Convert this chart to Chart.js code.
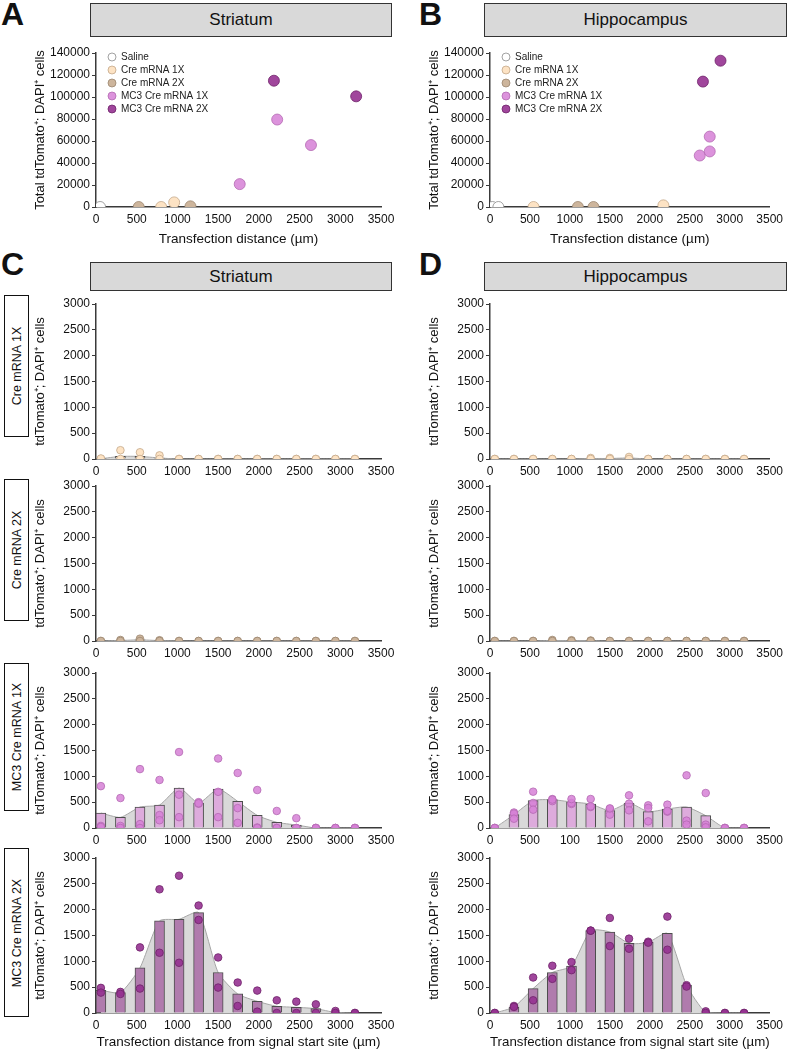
<!DOCTYPE html>
<html>
<head>
<meta charset="utf-8">
<script src="https://cdn.jsdelivr.net/npm/chart.js@4.4.1/dist/chart.umd.min.js"></script>
<style>
  html, body { margin: 0; padding: 0; background: #fff; }
  #fig { position: relative; width: 788px; height: 1050px; overflow: hidden;
         font-family: Arial, "Liberation Sans", sans-serif; color: #111; }
  #fig canvas { position: absolute; }
  .letter { position: absolute; font-weight: bold; font-size: 32px; line-height: 1; }
  .head { position: absolute; background: #d9d9d9; border: 1px solid #333; box-sizing: border-box;
          display: flex; align-items: center; justify-content: center; font-size: 17px; }
  .rowlab { position: absolute; left: 4px; width: 25px; border: 1.5px solid #111;
            box-sizing: border-box; background: #fff; }
  .rowlab span { position: absolute; left: 50%; top: 50%; white-space: nowrap; font-size: 12.5px;
                 transform: translate(-50%, -50%) rotate(-90deg); }
</style>
</head>
<body>
<div id="fig">
  <div class="letter" style="left:1px;top:-2px">A</div>
  <div class="letter" style="left:419px;top:-2px">B</div>
  <div class="letter" style="left:1px;top:248px">C</div>
  <div class="letter" style="left:419px;top:248px">D</div>

  <div class="head" style="left:90px;top:3px;width:302px;height:34px">Striatum</div>
  <div class="head" style="left:484px;top:3px;width:303px;height:34px">Hippocampus</div>
  <div class="head" style="left:90px;top:262px;width:302px;height:29px">Striatum</div>
  <div class="head" style="left:484px;top:262px;width:303px;height:29px">Hippocampus</div>

  <div class="rowlab" style="top:295px;height:142px"><span>Cre mRNA 1X</span></div>
  <div class="rowlab" style="top:479px;height:142px"><span>Cre mRNA 2X</span></div>
  <div class="rowlab" style="top:663px;height:148px"><span>MC3 Cre mRNA 1X</span></div>
  <div class="rowlab" style="top:848px;height:169px"><span>MC3 Cre mRNA 2X</span></div>
</div>

<script>
  // --- axis values ---
  const binCenters   = [60, 300, 540, 780, 1020, 1260, 1500, 1740, 1980, 2220, 2460, 2700, 2940, 3180];
  const xTicks       = [0, 500, 1000, 1500, 2000, 2500, 3000, 3500];
  const xTickLabels  = ['0', '500', '1000', '1500', '2000', '2500', '3000', '3500'];
  const xTickLabelsD3 = ['0', '500', '100', '1500', '2000', '2500', '3000', '3500']; // printed this way in D, row 3
  const totalTicks   = [0, 20000, 40000, 60000, 80000, 100000, 120000, 140000];
  const cellTicks    = [0, 500, 1000, 1500, 2000, 2500, 3000];

  const groupNames = ['Saline', 'Cre mRNA 1X', 'Cre mRNA 2X', 'MC3 Cre mRNA 1X', 'MC3 Cre mRNA 2X'];

  // --- A / B: one point per animal ---
  const striatumTotalX = [[50], [800, 960], [525, 1160], [1765, 2225, 2640], [2185, 3195]];
  const striatumTotalY = [[0], [0, 4200], [0, 600], [20800, 79500, 56300], [114800, 100600]];
  const hippoTotalX    = [[30, 105], [545, 2170], [1100, 1295], [2625, 2750, 2750], [2665, 2885]];
  const hippoTotalY    = [[0, 0], [0, 1500], [0, 0], [46800, 50500, 64000], [114000, 133000]];

  // --- C: striatum, mean per bin and one value per animal ---
  const strCre1Mean = [5, 50, 50, 20, 0, 0, 0, 0, 0, 0, 0, 0, 0, 0];
  const strCre1Pts  = [[0, 10], [170, 0], [130, 0], [70, 0], [0, 0], [0, 0], [0, 0], [0, 0], [0, 0], [0, 0], [0, 0], [0, 0], [0, 0], [0, 0]];
  const strCre2Mean = [0, 10, 22, 8, 0, 0, 0, 0, 0, 0, 0, 0, 0, 0];
  const strCre2Pts  = [[0, 0], [20, 0], [45, 0], [15, 0], [0, 0], [0, 0], [0, 0], [0, 0], [0, 0], [0, 0], [0, 0], [0, 0], [0, 0], [0, 0]];
  const strMc1Mean  = [290, 206, 406, 445, 774, 484, 755, 516, 245, 110, 58, 0, 0, 0];
  const strMc1Pts   = [[810, 40, 20], [580, 40, 0], [1140, 75, 0], [930, 250, 150], [1470, 645, 210], [500, 470, 480], [1345, 700, 210],
                       [1065, 385, 100], [735, 10, 0], [330, 0, 0], [190, 0, 0], [0, 0, 0], [0, 0, 0], [0, 0, 0]];
  const strMc2Mean  = [441, 395, 875, 1782, 1814, 1944, 784, 369, 227, 130, 110, 84, 10, 0];
  const strMc2Pts   = [[486, 395], [408, 369], [1270, 473], [2394, 1166], [2657, 972], [2080, 1801], [1075, 492],
                       [590, 136], [434, 26], [246, 0], [220, 0], [168, 0], [39, 0], [0, 0]];

  // --- D: hippocampus ---
  const hipCre1Mean = [0, 0, 0, 0, 0, 10, 10, 20, 0, 0, 0, 0, 0, 0];
  const hipCre1Pts  = [[0, 0], [0, 0], [0, 0], [0, 0], [0, 0], [20, 0], [20, 0], [40, 0], [0, 0], [0, 0], [0, 0], [0, 0], [0, 0], [0, 0]];
  const hipCre2Mean = [0, 0, 0, 10, 8, 5, 0, 0, 0, 0, 0, 0, 0, 0];
  const hipCre2Pts  = [[0, 0], [0, 0], [0, 0], [20, 0], [15, 0], [10, 0], [0, 0], [0, 0], [0, 0], [0, 0], [0, 0], [0, 0], [0, 0], [0, 0]];
  const hipMc1Mean  = [0, 258, 529, 548, 503, 464, 335, 484, 316, 368, 406, 239, 0, 0];
  const hipMc1Pts   = [[0, 0, 0], [300, 280, 180], [703, 484, 355], [560, 520, 550], [465, 485, 560], [561, 406, 420], [368, 258, 380],
                       [632, 471, 342], [439, 387, 129], [452, 316, 330], [1019, 142, 65], [677, 65, 13], [0, 0, 0], [0, 0, 0]];
  const hipMc2Mean  = [0, 117, 473, 784, 907, 1594, 1568, 1348, 1367, 1542, 538, 10, 0, 0];
  const hipMc2Pts   = [[0, 0], [136, 117], [687, 246], [914, 661], [985, 829], [1594, 1594], [1840, 1296],
                       [1439, 1244], [1380, 1361], [1866, 1225], [538, 512], [32, 0], [0, 0], [0, 0]];

  // --- colours per group ---
  const dotFill = ['#ffffff', '#fde3c4', '#cdb59c', 'rgba(214,128,214,0.85)', 'rgba(150,50,145,0.9)'];
  const dotLine = ['#8c8c8c', '#c4a88a', '#9c8670', '#b46ab3', '#6e2269'];
  const barFill = ['#ffffff', '#f6d9b8', '#c9b29a', '#ddabdc', '#b07bad'];

  Chart.defaults.font.family = 'Arial, "Liberation Sans", sans-serif';
  Chart.defaults.color = '#111';
  Chart.defaults.animation = false;
  Chart.defaults.events = [];
  Chart.defaults.plugins.legend.display = false;
  Chart.defaults.plugins.tooltip.enabled = false;

  const fig = document.getElementById('fig');

  // legend drawn inside the plot area (panels A and B)
  const insideLegend = {
    id: 'insideLegend',
    afterDatasetsDraw(chart) {
      const ctx = chart.ctx, a = chart.chartArea;
      ctx.save();
      chart.data.datasets.forEach((ds, i) => {
        const x = a.left + 16, y = a.top + 4 + i * 13;
        ctx.beginPath();
        ctx.arc(x, y, 4, 0, Math.PI * 2);
        ctx.fillStyle = ds.backgroundColor;
        ctx.fill();
        ctx.lineWidth = 0.8;
        ctx.strokeStyle = ds.borderColor;
        ctx.stroke();
        ctx.fillStyle = '#222';
        ctx.font = '10px Arial, "Liberation Sans", sans-serif';
        ctx.textBaseline = 'middle';
        ctx.fillText(ds.label, x + 9, y);
      });
      ctx.restore();
    }
  };

  function addCanvas(box) {
    const c = document.createElement('canvas');
    c.width = box.w; c.height = box.h;
    c.style.left = box.l + 'px'; c.style.top = box.t + 'px';
    fig.appendChild(c);
    return c;
  }

  // pin the plot area to fixed pixels inside its canvas
  function frame(box, area, padLeft) {
    return {
      padding: { left: padLeft, right: box.l + box.w - area.r, top: area.t - box.t, bottom: 0 },
      yWidth: area.l - box.l - padLeft,
      xHeight: box.t + box.h - area.b
    };
  }

  function axes(f, yVals, yTitle, xLabels, xTitle, ySize) {
    return {
      x: {
        type: 'linear', min: 0, max: 3500, offset: false,
        afterBuildTicks: s => { s.ticks = xTicks.map(v => ({ value: v })); },
        afterFit: s => { s.height = f.xHeight; },
        ticks: { font: { size: 12 }, padding: 5, maxRotation: 0, autoSkip: false, callback: (v, i) => xLabels[i] },
        grid: { drawOnChartArea: false, drawTicks: false, offset: false },
        border: { color: '#3a3a3a', width: 1.5 },
        title: { display: !!xTitle, text: xTitle || '', font: { size: 13.5 }, padding: 0 }
      },
      y: {
        min: 0, max: yVals[yVals.length - 1],
        afterBuildTicks: s => { s.ticks = yVals.map(v => ({ value: v })); },
        afterFit: s => { s.width = f.yWidth; },
        ticks: { font: { size: ySize }, padding: 2, callback: v => String(v) },
        grid: { drawOnChartArea: false, drawTicks: true, tickLength: 4, color: '#3a3a3a' },
        border: { color: '#3a3a3a', width: 1.5 },
        title: { display: true, text: yTitle, font: { size: 13 }, padding: 0 }
      }
    };
  }

  function totalChart(box, area, xs, ys) {
    const f = frame(box, area, 33);
    new Chart(addCanvas(box), {
      type: 'scatter',
      data: {
        datasets: groupNames.map((name, g) => ({
          label: name,
          data: xs[g].map((x, i) => ({ x, y: ys[g][i] })),
          backgroundColor: dotFill[g], borderColor: dotLine[g],
          borderWidth: 0.8, pointRadius: 5.5, clip: 0
        }))
      },
      options: {
        responsive: false,
        layout: { padding: f.padding },
        scales: axes(f, totalTicks, 'Total tdTomato⁺; DAPI⁺ cells', xTickLabels, 'Transfection distance (µm)', 12)
      },
      plugins: [insideLegend]
    });
  }

  function cellChart(box, area, means, pts, g, xLabels, xTitle) {
    const f = frame(box, area, 33);
    const bins = binCenters.map((x, i) => ({ x, y: means[i] }));
    const dots = [];
    pts.forEach((vals, i) => vals.forEach(v => dots.push({ x: binCenters[i], y: v })));
    new Chart(addCanvas(box), {
      type: 'bar',
      data: {
        datasets: [
          { type: 'scatter', data: dots, backgroundColor: dotFill[g], borderColor: dotLine[g],
            borderWidth: 0.8, pointRadius: 3.8, order: 1, clip: 0 },
          { type: 'bar', data: bins, backgroundColor: barFill[g], borderColor: '#4d4d4d',
            borderWidth: 1, barThickness: 10, order: 2, clip: 0 },
          { type: 'line', data: bins, fill: 'origin', backgroundColor: '#d9d9d9', borderColor: '#a6a6a6',
            borderWidth: 1, pointRadius: 0, tension: 0.2, order: 3, clip: 0 }
        ]
      },
      options: {
        responsive: false,
        layout: { padding: f.padding },
        scales: axes(f, cellTicks, 'tdTomato⁺; DAPI⁺ cells', xLabels, xTitle, 12)
      }
    });
  }

  // --- A and B ---
  totalChart({ l: 0, t: 40, w: 400, h: 207 }, { l: 96, r: 381, t: 53, b: 207 }, striatumTotalX, striatumTotalY);
  totalChart({ l: 394, t: 40, w: 394, h: 207 }, { l: 490, r: 775, t: 53, b: 207 }, hippoTotalX, hippoTotalY);

  // --- C and D, four rows each ---
  const rowTops    = [304, 486, 673, 858];
  const rowBottoms = [459, 641, 828, 1013];
  const strRows = [[strCre1Mean, strCre1Pts, 1], [strCre2Mean, strCre2Pts, 2], [strMc1Mean, strMc1Pts, 3], [strMc2Mean, strMc2Pts, 4]];
  const hipRows = [[hipCre1Mean, hipCre1Pts, 1], [hipCre2Mean, hipCre2Pts, 2], [hipMc1Mean, hipMc1Pts, 3], [hipMc2Mean, hipMc2Pts, 4]];

  rowTops.forEach((top, r) => {
    const last = r === rowTops.length - 1;
    const bt = top - 10;
    const bh = last ? 1050 - bt : rowBottoms[r] + 20 - bt;
    const xTitle = last ? 'Transfection distance from signal start site (µm)' : '';
    cellChart({ l: 0, t: bt, w: 400, h: bh }, { l: 96, r: 381, t: top, b: rowBottoms[r] },
              strRows[r][0], strRows[r][1], strRows[r][2], xTickLabels, xTitle);
    cellChart({ l: 394, t: bt, w: 394, h: bh }, { l: 490, r: 775, t: top, b: rowBottoms[r] },
              hipRows[r][0], hipRows[r][1], hipRows[r][2], r === 2 ? xTickLabelsD3 : xTickLabels, xTitle);
  });
</script>
</body>
</html>
